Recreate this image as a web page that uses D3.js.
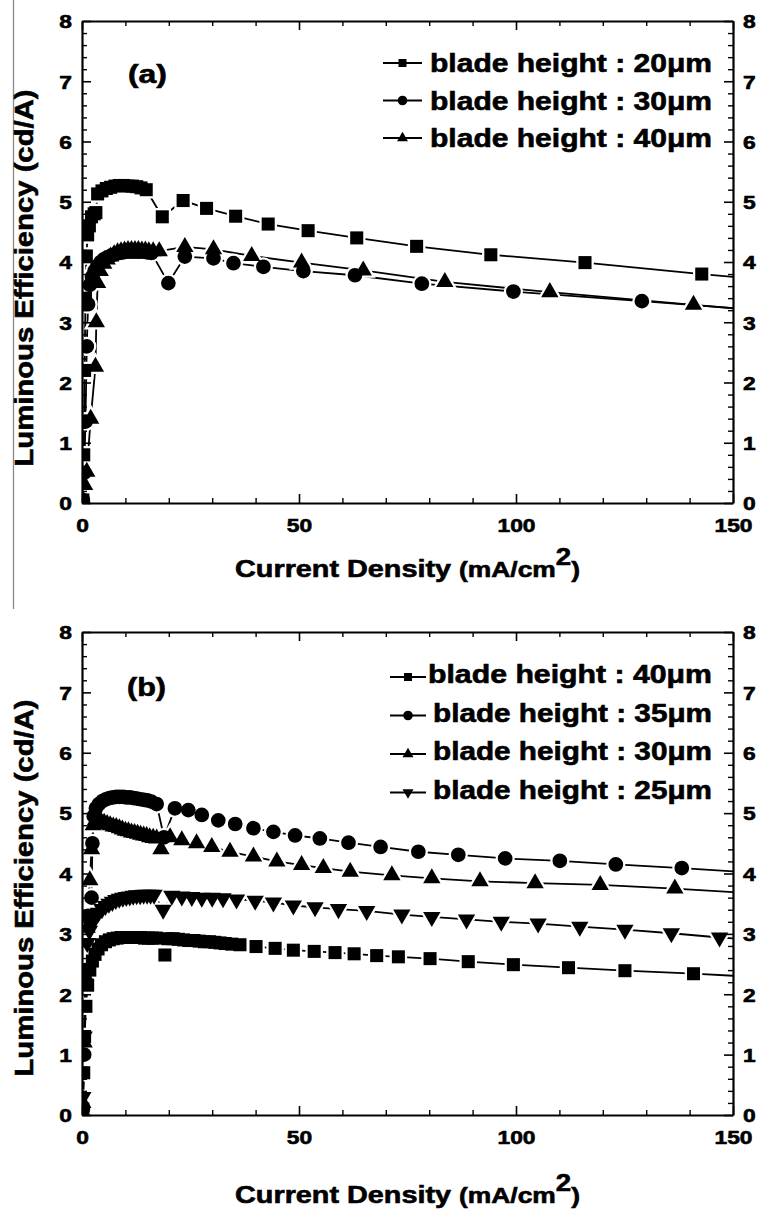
<!DOCTYPE html>
<html>
  <head>
    <meta charset="utf-8">
    <title>Luminous efficiency vs current density</title>
    <script src="https://d3js.org/d3.v7.min.js" charset="utf-8"></script>
    <style>
      body{ margin:0; background:#fff; overflow:hidden; }
      svg text{ font-family: 'Liberation Sans', Arial, Helvetica, sans-serif; font-weight: bold; fill:#000;
                stroke:#000; stroke-width:0.6px; }
    </style>
  </head>
  <body>
    <svg></svg>
    <script>

      //begin: tick and label data
      var xTicks = [0, 50, 100, 150];
      var yTicks = [0, 1, 2, 3, 4, 5, 6, 7, 8];
      var legendA = ["blade height : 20\u03bcm", "blade height : 30\u03bcm", "blade height : 40\u03bcm"];
      var legendB = ["blade height : 40\u03bcm", "blade height : 35\u03bcm", "blade height : 30\u03bcm", "blade height : 25\u03bcm"];
      //end: tick and label data

      //begin: panel (a) series, [current density, efficiency]
      var a20 = [[0.2,0.05],[0.4,0.8],[0.6,2.2],[0.8,3.4],[1.0,4.1],[1.3,4.45],[1.7,4.6],[2.2,4.75],[2.8,4.8],[3.2,4.82],
                 [3.6,5.13],[4.6,5.18],[5.6,5.22],[6.6,5.24],[7.6,5.26],[8.6,5.27],[9.6,5.27],[10.6,5.26],[11.6,5.26],
                 [12.6,5.25],[13.6,5.23],[14.8,5.2],[18.5,4.75],[23.3,5.02],[28.7,4.89],[35.4,4.76],[42.9,4.63],
                 [52.1,4.52],[63.3,4.4],[77.1,4.26],[94.2,4.12],[115.9,3.99],[142.8,3.8],[160,3.69]];
      var a30 = [[0.2,0.05],[0.5,0.5],[0.8,1.35],[1.1,2.6],[1.4,3.3],[1.8,3.62],[2.3,3.75],[2.9,3.85],[3.5,3.93],
                 [4.3,4.0],[5.1,4.05],[5.9,4.08],[6.8,4.11],[7.7,4.13],[8.6,4.15],[9.5,4.16],[10.4,4.17],[11.3,4.17],
                 [12.2,4.17],[13.1,4.17],[14,4.17],[15,4.16],[16,4.15],[19.9,3.65],[23.7,4.09],[30.3,4.06],[34.9,3.98],
                 [41.8,3.92],[51.0,3.85],[62.9,3.78],[78.3,3.64],[99.4,3.51],[129,3.35],[160,3.18]];
      var a40 = [[0.2,0.05],[0.6,0.3],[1.1,0.52],[2.0,1.4],[3.1,2.26],[3.3,3.0],[3.6,3.65],[4.2,3.85],[5.0,3.97],
                 [5.8,4.04],[6.6,4.09],[7.4,4.13],[8.2,4.16],[9.0,4.18],[9.8,4.19],[10.6,4.2],[11.4,4.2],[12.2,4.2],
                 [13.0,4.2],[13.8,4.19],[14.6,4.19],[15.4,4.18],[16.4,4.18],[17.8,4.18],[23.7,4.25],[30.3,4.21],
                 [39.1,4.1],[50.6,3.99],[64.8,3.86],[83.6,3.67],[107.8,3.5],[140.9,3.29],[160,3.17]];
      //end: panel (a) series

      //begin: panel (b) series
      var b40 = [[0.2,0.1],[0.4,0.7],[0.6,1.3],[0.9,1.8],[1.3,2.15],[1.8,2.4],[2.4,2.55],[3.0,2.66],[3.7,2.75],
                 [4.5,2.82],[5.4,2.87],[6.3,2.9],[7.2,2.92],[8.1,2.93],[9.0,2.94],[9.9,2.94],[10.8,2.94],[11.7,2.94],
                 [12.6,2.94],[13.5,2.94],[14.4,2.93],[15.3,2.93],[16.2,2.93],[17.1,2.93],[19.1,2.65],[19.8,2.92],
                 [21,2.92],[22.2,2.91],[23.4,2.9],[24.6,2.89],[25.8,2.89],[27,2.88],[28.2,2.87],[29.4,2.87],[30.6,2.86],
                 [31.8,2.85],[33,2.84],[34.5,2.83],[36.4,2.82],[40.1,2.79],[44.5,2.76],[48.7,2.73],[53.5,2.71],
                 [58.3,2.69],[62.7,2.67],[67.9,2.64],[72.9,2.62],[80.2,2.59],[89.0,2.54],[99.4,2.49],[112.1,2.44],
                 [125.1,2.39],[140.9,2.34],[160,2.27]];
      var b35 = [[0.2,0.1],[0.5,1.0],[0.9,2.4],[1.4,3.3],[2.2,3.6],[2.4,4.5],[2.7,4.95],[3.2,5.08],[3.9,5.15],
                 [4.7,5.2],[5.5,5.23],[6.3,5.25],[7.1,5.26],[7.9,5.27],[8.7,5.27],[9.5,5.27],[10.3,5.26],[11.1,5.26],
                 [11.9,5.25],[12.7,5.24],[13.5,5.23],[14.3,5.22],[15.1,5.21],[16.0,5.19],[17.2,5.15],[18.9,4.6],
                 [21.4,5.08],[24.5,5.05],[27.6,4.97],[31.4,4.88],[35.3,4.82],[39.5,4.75],[44.1,4.69],[49.1,4.63],
                 [54.8,4.58],[61.4,4.51],[68.8,4.44],[77.5,4.36],[86.7,4.31],[97.5,4.25],[110.1,4.21],[123.0,4.15],
                 [138.2,4.09],[160,3.99]];
      var b30 = [[0.2,0.2],[0.5,1.2],[0.8,2.3],[1.2,3.1],[1.8,3.89],[2.2,4.4],[2.6,4.8],[3.1,4.88],[3.7,4.88],
                 [4.4,4.86],[5.1,4.84],[5.8,4.82],[6.5,4.8],[7.2,4.78],[7.9,4.77],[8.6,4.75],[9.3,4.73],[10.0,4.71],
                 [10.7,4.7],[11.4,4.68],[12.1,4.67],[12.8,4.66],[13.5,4.64],[14.2,4.63],[14.9,4.62],[15.6,4.6],
                 [16.4,4.59],[17.2,4.58],[18.2,4.4],[20.3,4.6],[23.0,4.55],[26.4,4.5],[29.9,4.44],[34.1,4.36],
                 [39.5,4.28],[44.9,4.2],[50.6,4.14],[55.6,4.09],[61.8,4.03],[71.4,3.97],[80.6,3.92],[91.7,3.87],
                 [104.4,3.84],[119.4,3.81],[136.6,3.75],[160,3.65]];
      var b25 = [[0.2,0.3],[0.5,1.3],[0.8,2.3],[1.2,2.85],[1.7,3.05],[2.3,3.17],[3.0,3.27],[3.8,3.35],[4.6,3.41],
                 [5.4,3.46],[6.2,3.5],[7.0,3.53],[7.8,3.56],[8.6,3.58],[9.4,3.6],[10.2,3.61],[11.0,3.62],[11.8,3.63],
                 [12.6,3.64],[13.4,3.64],[14.2,3.65],[15.0,3.65],[15.8,3.65],[16.6,3.65],[18.7,3.4],[20.7,3.63],
                 [23.0,3.62],[25.3,3.61],[27.6,3.6],[30,3.6],[32.5,3.59],[35.6,3.57],[39.9,3.55],[44.1,3.52],
                 [48.7,3.47],[53.7,3.44],[59.1,3.41],[65.6,3.38],[73.7,3.32],[80.6,3.28],[88.6,3.24],[96.6,3.2],
                 [105.1,3.17],[114.7,3.12],[125.1,3.07],[135.8,3.01],[146.9,2.94],[160,2.88]];
      //end: panel (b) series

      //begin: layout conf.
      var svgWidth = 757,
          svgHeight = 1213,
          plotLeft = 82,
          plotRight = 733,
          stretch = 1.2;   // glyphs in the figure are wider than Liberation Sans
      var x = d3.scaleLinear().domain([0, 150]).range([plotLeft, plotRight]);
      var symbolSizes = {square: 170, circle: 170, triangle: 130, triangleDown: 130};
      var legendSizes = {square: 64, circle: 72, triangle: 52, triangleDown: 52};
      //end: layout conf.

      var panels = [
        { name: "a", top: 21, bottom: 503, label: "(a)", labelX: 128, labelY: 83,
          xTitleY: 577, yTitleCenter: 278,
          series: [{data: a20, symbol: "square"}, {data: a30, symbol: "circle"}, {data: a40, symbol: "triangle"}],
          legend: legendA, legendY: [72, 109.5, 147], legendTextX: [430, 430, 430], legendLine: [383, 422], legendDy: 9 },
        { name: "b", top: 632, bottom: 1115, label: "(b)", labelX: 127, labelY: 696,
          xTitleY: 1203, yTitleCenter: 888,
          series: [{data: b40, symbol: "square"}, {data: b35, symbol: "circle"}, {data: b30, symbol: "triangle"}, {data: b25, symbol: "triangleDown"}],
          legend: legendB, legendY: [683, 721.5, 760, 798.5], legendTextX: [428, 433, 433, 433], legendLine: [390, 426], legendDy: 6 }
      ];

      var svg = d3.select("svg")
        .attr("width", svgWidth)
        .attr("height", svgHeight)
        .style("display", "block");

      // leftover crop border of the scanned figure
      svg.append("line")
        .attr("x1", 13.5).attr("x2", 13.5)
        .attr("y1", 0).attr("y2", 609)
        .attr("stroke", "#8a8a8a").attr("stroke-width", 1.3);

      function symbolPath(type, size) {
        var t = type == "square" ? d3.symbolSquare : (type == "circle" ? d3.symbolCircle : d3.symbolTriangle);
        return d3.symbol().type(t).size(size)();
      }

      function markerTransform(type, px, py) {
        return "translate(" + [px, py] + ")" + (type == "triangleDown" ? " rotate(180)" : "");
      }

      function drawPanel(p) {
        var y = d3.scaleLinear().domain([0, 8]).range([p.bottom, p.top]);
        var g = svg.append("g").classed("panel-" + p.name, true);

        //begin: data
        var clipId = "clip-" + p.name;
        svg.append("clipPath").attr("id", clipId)
          .append("rect")
            .attr("x", x(0)).attr("y", p.top)
            .attr("width", x(150) - x(0)).attr("height", p.bottom - p.top);

        var plot = g.append("g").attr("clip-path", "url(#" + clipId + ")");
        var line = d3.line().x(function(d){ return x(d[0]); }).y(function(d){ return y(d[1]); });

        p.series.forEach(function(s){
          plot.append("path")
            .attr("d", line(s.data))
            .attr("fill", "none")
            .attr("stroke", "#000")
            .attr("stroke-width", 1.8);
        });
        // white halo leaves the little gap between line and symbol
        [["#fff", 4.5], ["#000", 0]].forEach(function(style){
          p.series.forEach(function(s){
            plot.append("g").selectAll("path")
              .data(s.data.filter(function(d){ return d[0] <= 150; }))
              .join("path")
                .attr("d", symbolPath(s.symbol, symbolSizes[s.symbol]))
                .attr("transform", function(d){ return markerTransform(s.symbol, x(d[0]), y(d[1])); })
                .attr("fill", style[0])
                .attr("stroke", style[0])
                .attr("stroke-width", style[1]);
          });
        });
        //end: data

        //begin: axes
        var xMinor = d3.range(0, 151, 10).filter(function(v){ return v % 50 != 0; });
        var yMinor = d3.range(0, 41).filter(function(i){ return i % 5 != 0; }).map(function(i){ return i / 5; });

        var axes = [
          [d3.axisBottom(x).tickValues(xTicks), "translate(0," + p.bottom + ")", true],
          [d3.axisTop(x).tickValues(xTicks), "translate(0," + p.top + ")", false],
          [d3.axisLeft(y).tickValues(yTicks), "translate(" + plotLeft + ",0)", true],
          [d3.axisRight(y).tickValues(yTicks), "translate(" + plotRight + ",0)", true]
        ];
        axes.forEach(function(a){
          var ag = g.append("g").attr("transform", a[1])
            .call(a[0].tickSizeInner(-9).tickSizeOuter(0).tickPadding(10)
                  .tickFormat(a[2] ? d3.format("d") : ""));
          ag.select(".domain").attr("stroke-width", 2.2);
          ag.selectAll(".tick line").attr("stroke-width", 1.6);
          ag.attr("font-family", null).attr("font-size", null);
          ag.selectAll(".tick text").style("font-size", "19px");
        });
        var minorAxes = [
          [d3.axisBottom(x).tickValues(xMinor), "translate(0," + p.bottom + ")"],
          [d3.axisTop(x).tickValues(xMinor), "translate(0," + p.top + ")"],
          [d3.axisLeft(y).tickValues(yMinor), "translate(" + plotLeft + ",0)"],
          [d3.axisRight(y).tickValues(yMinor), "translate(" + plotRight + ",0)"]
        ];
        minorAxes.forEach(function(a){
          var ag = g.append("g").attr("transform", a[1])
            .call(a[0].tickSizeInner(-5).tickSizeOuter(0).tickFormat(""));
          ag.select(".domain").remove();
          ag.selectAll(".tick line").attr("stroke-width", 1.4);
        });

        // widen tick labels the way the original glyphs are
        g.selectAll(".tick text").each(function(){
          var t = d3.select(this);
          var tx = +t.attr("x") || 0;
          var dy = t.attr("dy");
          t.attr("x", null).attr("y", null).attr("dy", null);
          if (dy == "0.71em") t.attr("transform", "translate(" + [0, 28.5] + ") scale(" + stretch + ",1)");
          else t.attr("transform", "translate(" + [tx, 6.8] + ") scale(" + stretch + ",1)");
        });
        //end: axes

        //begin: titles
        var xt = g.append("text")
          .attr("transform", "translate(" + [407.5, p.xTitleY] + ") scale(1.2,1)")
          .attr("text-anchor", "middle");
        xt.append("tspan").style("font-size", "24px").text("Current Density ");
        xt.append("tspan").style("font-size", "22px").text("(mA/cm");
        xt.append("tspan").style("font-size", "23px").attr("dy", -12).text("2");
        xt.append("tspan").style("font-size", "22px").attr("dy", 12).text(")");

        g.append("text")
          .attr("transform", "translate(" + [33, p.yTitleCenter] + ") rotate(-90)")
          .attr("text-anchor", "middle")
          .attr("textLength", 377)
          .attr("lengthAdjust", "spacingAndGlyphs")
          .style("font-size", "26px")
          .text("Luminous Efficiency (cd/A)");

        g.append("text")
          .attr("x", p.labelX).attr("y", p.labelY)
          .attr("textLength", 39)
          .attr("lengthAdjust", "spacingAndGlyphs")
          .style("font-size", "25px")
          .text(p.label);
        //end: titles

        //begin: legend
        p.legend.forEach(function(txt, i){
          var s = p.series[i], ly = p.legendY[i] - p.legendDy;
          g.append("line")
            .attr("x1", p.legendLine[0]).attr("x2", p.legendLine[1])
            .attr("y1", ly).attr("y2", ly)
            .attr("stroke", "#000").attr("stroke-width", 1.8);
          g.append("path")
            .attr("d", symbolPath(s.symbol, legendSizes[s.symbol]))
            .attr("transform", markerTransform(s.symbol, (p.legendLine[0] + p.legendLine[1]) / 2, ly))
            .attr("fill", "#000");
          g.append("text")
            .attr("x", p.legendTextX[i]).attr("y", p.legendY[i])
            .attr("textLength", 712 - p.legendTextX[i])
            .attr("lengthAdjust", "spacingAndGlyphs")
            .style("font-size", "25px")
            .text(txt);
        });
        //end: legend
      }

      panels.forEach(drawPanel);

    </script>
  </body>
</html>
